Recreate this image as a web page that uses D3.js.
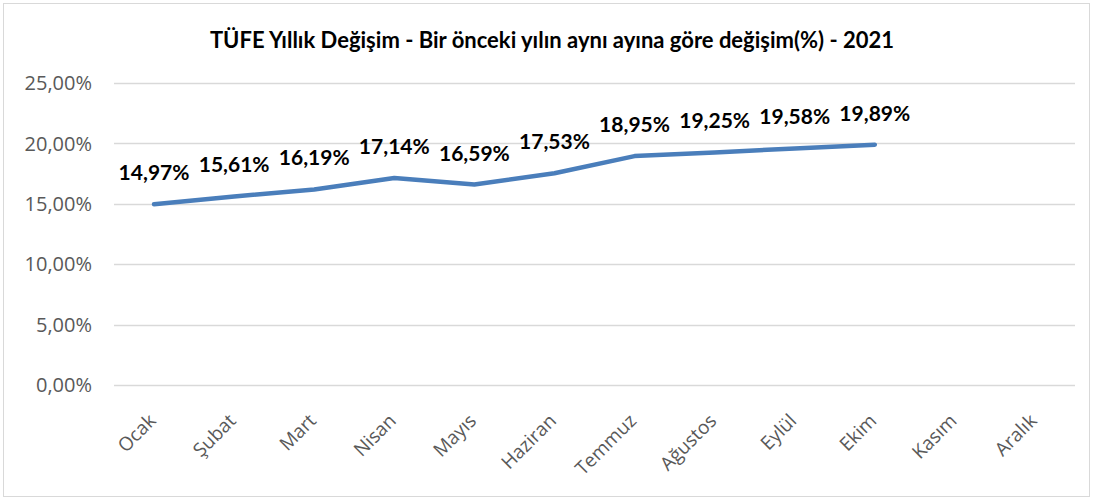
<!DOCTYPE html>
<html>
<head>
<meta charset="utf-8">
<script src="https://cdn.jsdelivr.net/npm/d3@7"></script>
<style>
  body { margin: 0; background: #fff; }
</style>
</head>
<body>
<div id="chart"></div>
<script>
// TÜFE yıllık değişim 2021
var months = ["Ocak", "Şubat", "Mart", "Nisan", "Mayıs", "Haziran", "Temmuz",
              "Ağustos", "Eylül", "Ekim", "Kasım", "Aralık"];
var values = [14.97, 15.61, 16.19, 17.14, 16.59, 17.53, 18.95, 19.25, 19.58, 19.89];
var yTicks = [0, 5, 10, 15, 20, 25];
var title = "TÜFE Yıllık Değişim - Bir önceki yılın aynı ayına göre değişim(%) - 2021";

var W = 1093, H = 499;
var margin = { left: 114, right: 18, top: 83, bottom: 114 };

var svg = d3.select("#chart")
    .append("svg")
    .attr("width", W)
    .attr("height", H);

// outer frame
svg.append("rect")
    .attr("x", 3.5).attr("y", 3.5)
    .attr("width", W - 7).attr("height", H - 6)
    .attr("fill", "#fff")
    .attr("stroke", "#d9d9d9");

var x = d3.scaleBand()
    .domain(months)
    .range([margin.left, W - margin.right]);

var y = d3.scaleLinear()
    .domain([0, 25])
    .range([H - margin.bottom, margin.top]);

var fmt = function(v) { return d3.format(".2f")(v).replace(".", ",") + "%"; };

// grid
svg.append("g")
    .selectAll("line")
    .data(yTicks)
    .join("line")
    .attr("x1", margin.left).attr("x2", W - margin.right)
    .attr("y1", d => Math.round(y(d)) + 0.5)
    .attr("y2", d => Math.round(y(d)) + 0.5)
    .attr("stroke", "#d9d9d9")
    .attr("stroke-width", 1.5);

// y axis labels
svg.append("g")
    .selectAll("text")
    .data(yTicks)
    .join("text")
    .attr("x", 92)
    .attr("y", d => y(d))
    .attr("dy", "0.36em")
    .attr("text-anchor", "end")
    .attr("font-family", "Open Sans")
    .attr("font-size", 20)
    .attr("fill", "#595959")
    .text(d => d.toFixed(2).replace(".", ",") + "%");

// x axis labels
svg.append("g")
    .selectAll("text")
    .data(months)
    .join("text")
    .attr("transform", d => "translate(" + (x(d) + x.bandwidth() / 2 + 3) + "," + (y(0) + 37) + ") rotate(-45)")
    .attr("text-anchor", "end")
    .attr("font-family", "Open Sans")
    .attr("font-size", 19)
    .attr("fill", "#595959")
    .text(d => d);

var pts = values.map((v, i) => ({ m: months[i], v: v }));

var line = d3.line()
    .x(d => x(d.m) + x.bandwidth() / 2)
    .y(d => y(d.v));

svg.append("path")
    .datum(pts)
    .attr("d", line)
    .attr("fill", "none")
    .attr("stroke", "#4a7ebb")
    .attr("stroke-width", 4.5)
    .attr("stroke-linecap", "round")
    .attr("stroke-linejoin", "round");

// data labels
svg.append("g")
    .selectAll("text")
    .data(pts)
    .join("text")
    .attr("x", d => x(d.m) + x.bandwidth() / 2)
    .attr("y", d => y(d.v) - 24)
    .attr("text-anchor", "middle")
    .attr("font-family", "Lato")
    .attr("font-weight", "bold")
    .attr("font-size", 21)
    .attr("fill", "#000")
    .text(d => fmt(d.v));

// title
svg.append("text")
    .attr("x", 552)
    .attr("y", 48)
    .attr("text-anchor", "middle")
    .attr("font-family", "Lato")
    .attr("font-weight", "bold")
    .attr("font-size", 22)
    .attr("fill", "#000")
    .text(title);
</script>
</body>
</html>
